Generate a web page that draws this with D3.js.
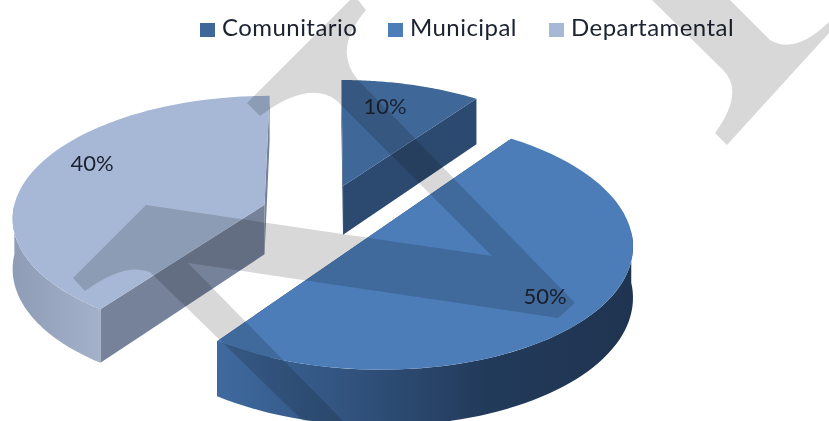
<!DOCTYPE html>
<html>
<head>
<meta charset="utf-8">
<script src="https://cdn.jsdelivr.net/npm/d3@7"></script>
<style>
html, body { margin: 0; padding: 0; background: #fff; }
text { font-family: Lato, "Open Sans", sans-serif; }
</style>
</head>
<body>
<svg id="chart" width="829" height="421"></svg>
<script>
var categories = ['Comunitario', 'Municipal', 'Departamental'];
var values = [10, 50, 40];
var labels = ['10%', '50%', '40%'];
var topColors = ['#3f6797', '#4c7db8', '#a7b8d6'];
var wallColors = ['#2c4a70', '#223f62', '#76829a'];

var svg = d3.select('#chart');

// fake perspective for the tilted pie
var cx = 324, cy = 214, radius = 252, squash = 0.48, persp = 0.095, depth = 50, explode = 0.25;

function project(x, y, z) {
    var s = 1 / (1 - persp * y);
    return [cx + x * radius * s, cy + y * radius * squash * s + z * depth * s];
}

var pie = d3.pie().sort(null).value(function(d) { return d; });
var arcs = pie(values);

function rimPoint(d, a, z) {
    var mid = (d.startAngle + d.endAngle) / 2;
    return project(explode * Math.sin(mid) + Math.sin(a), -explode * Math.cos(mid) - Math.cos(a), z);
}
function apexPoint(d, z) {
    var mid = (d.startAngle + d.endAngle) / 2;
    return project(explode * Math.sin(mid), -explode * Math.cos(mid), z);
}
function rim(d, z, from, to) {
    return d3.range(0, 61).map(function(i) {
        return rimPoint(d, from + (to - from) * i / 60, z);
    });
}

var line = d3.line();
var pieG = svg.append('g');
var defs = svg.append('defs');

var grad = defs.append('linearGradient').attr('id', 'wall1').attr('x1', 0).attr('x2', 1).attr('y1', 0).attr('y2', 0);
grad.append('stop').attr('offset', 0).attr('stop-color', '#3f6a9f');
grad.append('stop').attr('offset', 0.65).attr('stop-color', '#223a5a');
grad.append('stop').attr('offset', 1).attr('stop-color', '#1f3450');
var grad2 = defs.append('linearGradient').attr('id', 'wall2').attr('x1', 0).attr('x2', 1).attr('y1', 0).attr('y2', 0);
grad2.append('stop').attr('offset', 0).attr('stop-color', '#8f9cb6');
grad2.append('stop').attr('offset', 1).attr('stop-color', '#a4b1cb');

// draw order: back slices first
[0, 2, 1].forEach(function(i) {
    var d = arcs[i];
    var g = pieG.append('g');
    // flat cut faces
    [d.startAngle, d.endAngle].forEach(function(a) {
        var pts = [apexPoint(d, 0), rimPoint(d, a, 0), rimPoint(d, a, 1), apexPoint(d, 1)];
        g.append('path').attr('d', line(pts) + 'Z').attr('fill', wallColors[i]);
    });
    // outer wall, only the part that faces the viewer
    var from = Math.max(d.startAngle, Math.PI / 2), to = Math.min(d.endAngle, 3 * Math.PI / 2);
    if (to > from) {
        var wall = rim(d, 0, from, to).concat(rim(d, 1, from, to).reverse());
        g.append('path').attr('d', line(wall) + 'Z').attr('fill', i === 1 ? 'url(#wall1)' : 'url(#wall2)');
    }
    var face = [apexPoint(d, 0)].concat(rim(d, 0, d.startAngle, d.endAngle));
    g.append('path').attr('d', line(face) + 'Z').attr('fill', topColors[i]);
});

// data labels
var labelPos = [[385, 108], [545, 298], [92, 165]];
svg.selectAll('text.lbl').data(labels).enter().append('text')
    .attr('class', 'lbl')
    .attr('x', function(d, i) { return labelPos[i][0]; })
    .attr('y', function(d, i) { return labelPos[i][1]; })
    .attr('text-anchor', 'middle').attr('dominant-baseline', 'middle')
    .attr('font-size', 22).attr('fill', '#1b2230')
    .text(function(d) { return d; });

// legend
var legendX = [200, 388, 549];
var legend = svg.selectAll('g.leg').data(categories).enter().append('g')
    .attr('class', 'leg')
    .attr('transform', function(d, i) { return 'translate(' + legendX[i] + ',23)'; });
legend.append('rect').attr('width', 15).attr('height', 14).attr('fill', function(d, i) { return topColors[i]; });
legend.append('text').attr('x', 22).attr('y', 7).attr('dominant-baseline', 'middle')
    .attr('font-size', 24).attr('letter-spacing', 0.45).attr('fill', '#1b2230')
    .text(function(d) { return d; });

// watermark on top of everything
var mark = svg.append('g').style('mix-blend-mode', 'multiply');
mark.append('path').attr('fill', '#d8d8d8')
    .attr('d', 'M358,0 L366,10 Q332,50 358,80 L575,303 L558,318 L188,263 L343,421 L303,421 L150,272 Q125,262 85,291 L73,278 L146,205 L492,256 L336,100 Q308,80 260,116 L247,103 L350,0 Z');
mark.append('path').attr('fill', '#d8d8d8')
    .attr('d', 'M652,0 L723,70 Q745,92 715,133 L727,145 L829,33 L829,22 Q795,55 770,40 L730,0 Z');
</script>
</body>
</html>
